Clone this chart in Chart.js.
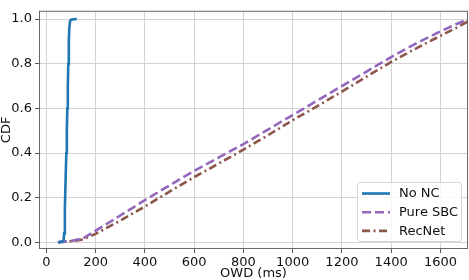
<!DOCTYPE html>
<html>
<head>
<meta charset="utf-8">
<script src="https://cdn.jsdelivr.net/npm/chart.js@4"></script>
<style>
  html, body { margin: 0; padding: 0; background: #fff; }
  #wrap { width: 469px; height: 280px; }
</style>
</head>
<body>
<div id="wrap"><canvas id="graph1" width="469" height="280"></canvas></div>
<script>
// series (OWD in ms, CDF)
const noNcOwd   = [47, 65, 70, 72, 75, 78, 81, 83, 85, 87, 89, 91, 93, 96, 100, 110, 124];
const noNcCdf   = [0, 0.003, 0.01, 0.04, 0.15, 0.28, 0.4, 0.5, 0.6, 0.7, 0.8, 0.9, 0.96, 0.99, 0.997, 0.999, 1.0];

const sbcOwd    = [47, 100, 150, 200, 300, 400, 500, 600, 700, 800, 900, 1000, 1100, 1200, 1300, 1400, 1500, 1600, 1660, 1712];
const sbcCdf    = [0, 0.006, 0.018, 0.052, 0.12, 0.189, 0.255, 0.32, 0.38, 0.44, 0.505, 0.57, 0.635, 0.70, 0.765, 0.83, 0.89, 0.945, 0.975, 1.0];

const recOwd    = [47, 100, 150, 200, 300, 400, 500, 600, 700, 800, 900, 1000, 1100, 1200, 1300, 1400, 1500, 1600, 1660, 1712];
const recCdf    = [0, 0.005, 0.013, 0.038, 0.097, 0.16, 0.227, 0.292, 0.353, 0.415, 0.48, 0.547, 0.61, 0.675, 0.742, 0.808, 0.868, 0.925, 0.958, 0.99];

const seriesNames = ['No NC', 'Pure SBC', 'RecNet'];
const xTicks = [0, 200, 400, 600, 800, 1000, 1200, 1400, 1600];
const yTicks = [0.0, 0.2, 0.4, 0.6, 0.8, 1.0];

const toPoints = (xs, ys) => xs.map((x, i) => ({ x: x, y: ys[i] }));

const FONT = 'DejaVu Sans';

// legend box inside the plot, lower right, plus the frame on all four sides
const framePlugin = {
  id: 'frameAndLegend',
  afterDraw(chart) {
    const ctx = chart.ctx;
    const a = chart.chartArea;
    ctx.save();
    ctx.strokeStyle = '#666';
    ctx.lineWidth = 1;
    ctx.strokeRect(a.left + 0.5, a.top + 0.5, a.right - a.left - 1, a.bottom - a.top - 1);

    // legend
    const bx = 357.5, by = 182.5, bw = 104, bh = 59;
    ctx.beginPath();
    ctx.roundRect(bx, by, bw, bh, 3);
    ctx.fillStyle = 'rgba(255,255,255,0.8)';
    ctx.fill();
    ctx.strokeStyle = '#d6d6d6';
    ctx.stroke();

    ctx.font = '13px "' + FONT + '"';
    ctx.textBaseline = 'middle';
    ctx.fillStyle = '#111';
    chart.data.datasets.forEach((ds, i) => {
      const y = 193.5 + i * 18.7;
      ctx.beginPath();
      ctx.setLineDash(ds.borderDash || []);
      ctx.strokeStyle = ds.borderColor;
      ctx.lineWidth = ds.borderWidth;
      ctx.moveTo(362, y);
      ctx.lineTo(390, y);
      ctx.stroke();
      ctx.setLineDash([]);
      ctx.fillText(ds.label, 399, y + 0.5);
    });
    ctx.restore();
  }
};

const initChart = () => {
  const ctx = document.getElementById('graph1').getContext('2d');

  const data = {
    datasets: [
      {
        label: seriesNames[0],
        data: toPoints(noNcOwd, noNcCdf),
        borderColor: '#1f77b4',
        borderWidth: 2.6
      },
      {
        label: seriesNames[1],
        data: toPoints(sbcOwd, sbcCdf),
        borderColor: '#9467bd',
        borderWidth: 2.6,
        borderDash: [9, 4]
      },
      {
        label: seriesNames[2],
        data: toPoints(recOwd, recCdf),
        borderColor: '#8c564b',
        borderWidth: 2.6,
        borderDash: [8, 3.5, 2, 3.5]
      }
    ]
  };

  const gridOpts = {
    color: '#d4d4d4',
    lineWidth: 1,
    drawTicks: true,
    tickLength: 4,
    tickColor: '#555'
  };

  const options = {
    responsive: false,
    animation: false,
    layout: { padding: { top: 1, right: 1, left: 0, bottom: 0 } },
    elements: { point: { radius: 0 }, line: { tension: 0, fill: false } },
    plugins: { legend: { display: false }, tooltip: { enabled: false } },
    scales: {
      x: {
        type: 'linear',
        min: -30,
        max: 1712,
        grid: gridOpts,
        border: { display: false },
        afterBuildTicks: (s) => { s.ticks = xTicks.map(v => ({ value: v })); },
        afterFit: (s) => { s.height = 31; },
        ticks: {
          color: '#111',
          padding: 2,
          maxRotation: 0,
          autoSkip: false,
          font: { family: FONT, size: 13 },
          callback: (v) => String(v)
        },
        title: {
          display: true,
          text: 'OWD (ms)',
          color: '#111',
          font: { family: FONT, size: 13, lineHeight: 1.0 },
          padding: { top: 0, bottom: 0 }
        }
      },
      y: {
        type: 'linear',
        min: -0.03,
        max: 1.037,
        grid: gridOpts,
        border: { display: false },
        afterBuildTicks: (s) => { s.ticks = yTicks.map(v => ({ value: v })); },
        afterFit: (s) => { s.width = 39; },
        ticks: {
          color: '#111',
          padding: 3,
          autoSkip: false,
          font: { family: FONT, size: 13 },
          callback: (v) => Number(v).toFixed(1)
        },
        title: {
          display: true,
          text: 'CDF',
          color: '#111',
          font: { family: FONT, size: 13, lineHeight: 1.0 },
          padding: { top: 0, bottom: 0 }
        }
      }
    }
  };

  const config = {
    type: 'line',
    data: data,
    options: options,
    plugins: [framePlugin]
  };
  const chart = new Chart(ctx, config);
};

initChart();
</script>
</body>
</html>
